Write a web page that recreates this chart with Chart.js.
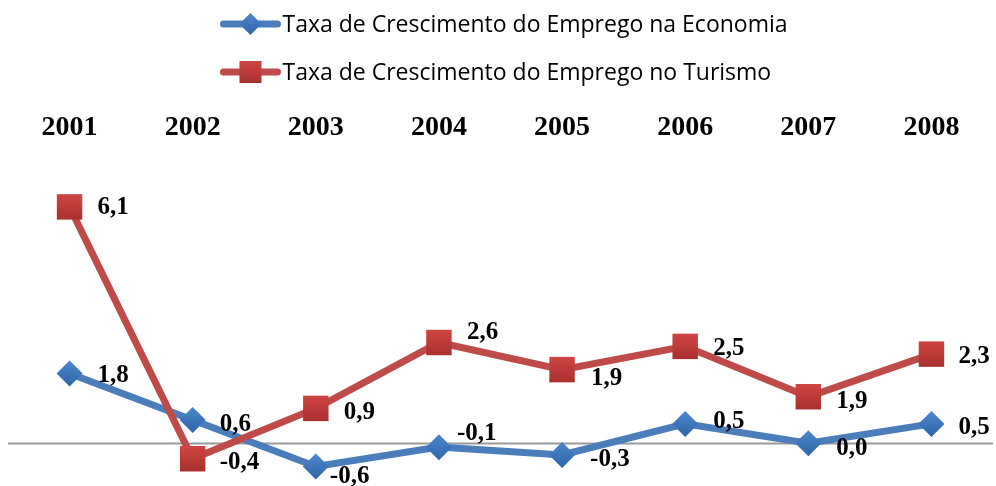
<!DOCTYPE html>
<html>
<head>
<meta charset="utf-8">
<script src="https://cdn.jsdelivr.net/npm/chart.js@4.4.1/dist/chart.umd.min.js"></script>
<style>
html,body{margin:0;padding:0;background:#ffffff;}
#wrap{position:relative;width:996px;height:486px;}
</style>
</head>
<body>
<div id="wrap"><canvas id="c"></canvas></div>
<script>
// ---- data ----
const years = ['2001', '2002', '2003', '2004', '2005', '2006', '2007', '2008'];
const seriesNames = [
  'Taxa de Crescimento do Emprego na Economia',
  'Taxa de Crescimento do Emprego no Turismo'
];
const economyValues = [1.8, 0.6, -0.6, -0.1, -0.3, 0.5, 0.0, 0.5];
const tourismValues = [6.1, -0.4, 0.9, 2.6, 1.9, 2.5, 1.2, 2.3];
const economyLabels = ['1,8', '0,6', '-0,6', '-0,1', '-0,3', '0,5', '0,0', '0,5'];
const tourismLabels = ['6,1', '-0,4', '0,9', '2,6', '1,9', '2,5', '1,9', '2,3'];

// ---- label placement (relative to each point) ----
const economyLabelDx = [28, 27, 14, 18, 28, 28, 28, 27];
const economyLabelDy = [2, 5, 10, -14, 5, -2, 5, 4];
const tourismLabelDx = [28, 27, 28, 28, 29, 28, 28, 27];
const tourismLabelDy = [1, 4, 4, -10, 9, 2, 5, 2];

const BLUE_LINE = '#4A7DBA';
const BLUE_MARK = '#3C74B9';
const BLUE_TOP = '#4C86CC';
const BLUE_BOT = '#2F65A8';
const RED_LINE = '#BE4B48';
const RED_MARK = '#C23B38';
const RED_TOP = '#D04543';
const RED_BOT = '#A8302E';
const LEGEND_FONT = '23px "Open Sans", Lato, "Liberation Sans", sans-serif';

function markerFill(top, bottom, flat, half) {
  return (c) => {
    const chart = c.chart;
    if (c.type !== 'data' || !chart.scales || !chart.scales.y) return flat;
    const y = chart.scales.y.getPixelForValue(c.parsed.y);
    if (!isFinite(y)) return flat;
    const g = chart.ctx.createLinearGradient(0, y - half, 0, y + half);
    g.addColorStop(0, top);
    g.addColorStop(1, bottom);
    return g;
  };
}

function legendIcon(ctx, cx, cy, lineColor, top, bottom, style) {
  ctx.save();
  ctx.strokeStyle = lineColor;
  ctx.lineWidth = 7;
  ctx.lineCap = 'round';
  ctx.beginPath(); ctx.moveTo(cx - 27, cy); ctx.lineTo(cx + 27, cy); ctx.stroke();
  const g = ctx.createLinearGradient(0, cy - 11, 0, cy + 11);
  g.addColorStop(0, top); g.addColorStop(1, bottom);
  ctx.fillStyle = g;
  ctx.beginPath();
  if (style === 'diamond') {
    ctx.moveTo(cx, cy - 11); ctx.lineTo(cx + 11, cy); ctx.lineTo(cx, cy + 11); ctx.lineTo(cx - 11, cy); ctx.closePath();
  } else {
    ctx.rect(cx - 11, cy - 11, 22, 22);
  }
  ctx.fill();
  ctx.restore();
}

const legendPlugin = {
  id: 'stackedLegend',
  afterDraw(chart) {
    const ctx = chart.ctx;
    ctx.save();
    ctx.font = LEGEND_FONT;
    const widths = seriesNames.map(t => ctx.measureText(t).width);
    const blockW = 62 + Math.max(...widths);
    const left = (chart.width - blockW) / 2 + 6;
    const rows = [24, 72];
    const styles = [[BLUE_LINE, BLUE_TOP, BLUE_BOT, 'diamond'], [RED_LINE, RED_TOP, RED_BOT, 'square']];
    seriesNames.forEach((t, i) => {
      legendIcon(ctx, left + 30, rows[i], styles[i][0], styles[i][1], styles[i][2], styles[i][3]);
      ctx.fillStyle = '#000000';
      ctx.textAlign = 'left';
      ctx.textBaseline = 'middle';
      ctx.fillText(t, left + 62, rows[i] + 1);
    });
    ctx.restore();
  }
};

const dataLabelsPlugin = {
  id: 'dataLabels',
  afterDatasetsDraw(chart) {
    const ctx = chart.ctx;
    const sets = [
      {labels: economyLabels, dx: economyLabelDx, dy: economyLabelDy},
      {labels: tourismLabels, dx: tourismLabelDx, dy: tourismLabelDy}
    ];
    ctx.save();
    ctx.font = 'bold 25px "Liberation Serif", "DejaVu Serif", serif';
    ctx.fillStyle = '#000000';
    ctx.textAlign = 'left';
    ctx.textBaseline = 'middle';
    sets.forEach((s, di) => {
      const meta = chart.getDatasetMeta(di);
      meta.data.forEach((pt, i) => {
        ctx.fillText(s.labels[i], pt.x + s.dx[i], pt.y + s.dy[i]);
      });
    });
    ctx.restore();
  }
};

const zeroLinePlugin = {
  id: 'zeroLine',
  beforeDatasetsDraw(chart) {
    const y = Math.round(chart.scales.y.getPixelForValue(0)) + 0.5;
    const ctx = chart.ctx;
    ctx.save();
    ctx.strokeStyle = '#9A9A9A';
    ctx.lineWidth = 2;
    ctx.beginPath();
    ctx.moveTo(chart.chartArea.left, y);
    ctx.lineTo(chart.chartArea.right, y);
    ctx.stroke();
    ctx.restore();
  }
};

new Chart(document.getElementById('c'), {
  type: 'line',
  data: {
    labels: years,
    datasets: [
      {
        label: seriesNames[0],
        data: economyValues,
        borderColor: BLUE_LINE,
        borderWidth: 7,
        backgroundColor: BLUE_MARK,
        pointStyle: 'rectRot',
        pointRadius: 13,
        pointHoverRadius: 13,
        pointBorderWidth: 0,
        pointBackgroundColor: markerFill(BLUE_TOP, BLUE_BOT, BLUE_MARK, 13),
        tension: 0,
        clip: false,
        order: 2
      },
      {
        label: seriesNames[1],
        data: tourismValues,
        borderColor: RED_LINE,
        borderWidth: 7,
        backgroundColor: RED_MARK,
        pointStyle: 'rect',
        pointRadius: 18,
        pointHoverRadius: 18,
        pointBorderWidth: 0,
        pointBackgroundColor: markerFill(RED_TOP, RED_BOT, RED_MARK, 13),
        tension: 0,
        clip: false,
        order: 1
      }
    ]
  },
  options: {
    responsive: true,
    maintainAspectRatio: false,
    animation: false,
    layout: { autoPadding: false, padding: { top: 91, left: 8, right: 3, bottom: 4 } },
    plugins: {
      tooltip: { enabled: false },
      legend: { display: false }
    },
    scales: {
      x: {
        type: 'category',
        position: 'top',
        offset: true,
        grid: { display: false, drawTicks: false },
        border: { display: false },
        ticks: {
          color: '#000000',
          padding: 27,
          font: { family: '"Liberation Serif", "DejaVu Serif", serif', size: 28, weight: 'bold' },
          maxRotation: 0,
          autoSkip: false
        },
        afterFit(scale) {
          scale.height = 81;
          scale.paddingLeft = 0;
          scale.paddingRight = 0;
        }
      },
      y: {
        display: false,
        min: -1,
        max: 7
      }
    }
  },
  plugins: [zeroLinePlugin, dataLabelsPlugin, legendPlugin]
});
</script>
</body>
</html>
